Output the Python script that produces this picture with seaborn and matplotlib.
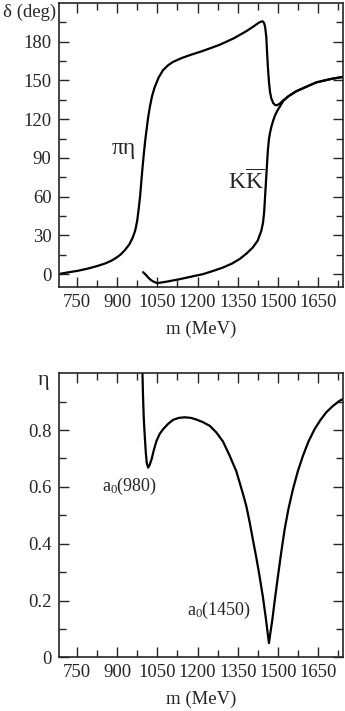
import numpy as np
import pandas as pd
import matplotlib
matplotlib.use('Agg')
import matplotlib.pyplot as plt
from matplotlib.ticker import MultipleLocator, FixedLocator
import seaborn as sns

# 위상차 δ (deg) - πη 채널
m_pieta = [680, 700, 752.6, 790, 827, 855, 877, 897, 914, 930, 945.6, 957, 966.6, 974,
           979, 985, 989, 994, 999, 1004, 1009, 1015, 1021.5, 1030, 1040, 1055, 1071,
           1090, 1108.5, 1140, 1171, 1210, 1245.5, 1280, 1308, 1335, 1357.5, 1385, 1407,
           1426, 1436, 1443, 1449, 1453, 1457, 1460, 1463, 1467, 1471, 1476, 1483, 1490,
           1497, 1507, 1520, 1540, 1568, 1600, 1644, 1700, 1745]
d_pieta = [0, 0.8, 2.6, 4.3, 6.4, 8.3, 10.3, 12.8, 15.5, 19, 23.3, 28, 33.6, 41,
           49, 60, 70, 82, 93, 103, 111.3, 121, 129.4, 138, 145, 152.5, 158,
           161.8, 164.4, 167.3, 169.6, 172.2, 174.8, 177.4, 180, 182.6, 185.2, 188.5, 191.5,
           194.3, 195.5, 195.8, 194.5, 191, 184, 172, 160.5, 149, 141, 136, 132.5, 131,
           130.8, 132, 134.5, 137.8, 141.5, 144.5, 148.5, 151.2, 152.8]

# 위상차 δ (deg) - KK̄ 채널
m_kk = [996.5, 1000, 1008, 1015, 1025, 1034, 1049, 1080, 1133.5, 1180, 1220.5, 1260,
        1295, 1330, 1357.5, 1385, 1407, 1425, 1438.6, 1445, 1449, 1452, 1456, 1460,
        1463, 1467, 1471, 1476, 1483, 1490, 1498, 1507, 1520, 1540, 1568, 1600, 1644,
        1700, 1745]
d_kk = [1.5, 0.8, -0.8, -2.6, -4.5, -5.7, -7, -6, -3.9, -1.8, 0, 2.6,
        5.1, 8.3, 11.7, 16.3, 20.7, 26, 33.6, 40, 48, 58, 72, 86,
        95.8, 104.5, 109.5, 114, 119, 123, 126.5, 129.5, 134, 137.8, 141.5, 144.5, 148.5,
        151.2, 152.8]

# 비탄성도 η
m_eta = [994, 996, 999, 1002.5, 1006.5, 1010, 1015, 1020, 1028, 1036, 1046.5, 1058,
         1071, 1090, 1108.5, 1130, 1152, 1175, 1196, 1220, 1245.5, 1270, 1295, 1320,
         1345, 1357.5, 1370, 1382.5, 1395, 1407, 1420, 1432, 1444, 1454.6, 1461,
         1467, 1473, 1479.6, 1490, 1500.6, 1513, 1525.6, 1540, 1556.6, 1575, 1594, 1615,
         1637.6, 1660, 1681, 1705, 1731, 1745]
eta = [1.0, 0.92, 0.839, 0.78, 0.72, 0.685, 0.668, 0.675, 0.697, 0.728, 0.762, 0.786,
       0.803, 0.822, 0.836, 0.843, 0.845, 0.843, 0.837, 0.828, 0.815, 0.792, 0.76, 0.71,
       0.655, 0.615, 0.575, 0.532, 0.475, 0.414, 0.35, 0.285, 0.215, 0.143, 0.095,
       0.05, 0.09, 0.132, 0.21, 0.285, 0.37, 0.45, 0.523, 0.591, 0.655, 0.709, 0.76,
       0.803, 0.836, 0.862, 0.884, 0.903, 0.91]

x_ticks = [750, 900, 1050, 1200, 1350, 1500, 1650]
delta_ticks = [0, 30, 60, 90, 120, 150, 180]
eta_ticks = [0, 0.2, 0.4, 0.6, 0.8]
eta_ticklabels = ['0', '0.2', '0.4', '0.6', '0.8']

sns.set_style('ticks')
plt.rcParams['font.family'] = ['Liberation Serif', 'DejaVu Serif']
plt.rcParams['mathtext.fontset'] = 'custom'
plt.rcParams['mathtext.rm'] = 'Liberation Serif'
plt.rcParams['mathtext.it'] = 'Liberation Serif:italic'
plt.rcParams['axes.linewidth'] = 1.2

fig = plt.figure(figsize=(3.45, 7.11), dpi=100)
ax1 = fig.add_axes([0.1696, 0.5963, 0.8254, 0.3995])
ax2 = fig.add_axes([0.1696, 0.0755, 0.8254, 0.3995])

df_pieta = pd.DataFrame({'m': m_pieta, 'delta': d_pieta})
df_kk = pd.DataFrame({'m': m_kk, 'delta': d_kk})
df_eta = pd.DataFrame({'m': m_eta, 'eta': eta})

sns.lineplot(data=df_pieta, x='m', y='delta', ax=ax1, color='black', lw=1.6, estimator=None)
sns.lineplot(data=df_kk, x='m', y='delta', ax=ax1, color='black', lw=1.6, estimator=None)
sns.lineplot(data=df_eta, x='m', y='eta', ax=ax2, color='black', lw=1.6, estimator=None)

for ax in (ax1, ax2):
    ax.set_xlim(680, 1745)
    ax.xaxis.set_major_locator(FixedLocator(x_ticks))
    ax.xaxis.set_minor_locator(MultipleLocator(75))
    ax.tick_params(which='both', direction='in', top=True, right=True, width=1.0,
                   labelsize=13.5, pad=5)
    ax.tick_params(which='major', length=7.5)
    ax.tick_params(which='minor', length=5)
    ax.set_xlabel('m (MeV)', fontsize=13.5, labelpad=7)
    ax.set_ylabel('')
    for s in ax.spines.values():
        s.set_visible(True)

ax1.set_ylim(-10, 210)
ax1.yaxis.set_major_locator(FixedLocator(delta_ticks))
ax1.yaxis.set_minor_locator(FixedLocator(np.arange(15, 210, 30)))
fig.text(3 / 345, 1 - 12 / 711, 'δ (deg)', ha='left', va='center', fontsize=13.5)
ax1.text(925, 97, 'πη', fontsize=17, ha='center', va='center')
ax1.text(1380, 72, r'$\mathrm{K}\overline{\mathrm{K}}$', fontsize=17, ha='center', va='center')

ax2.set_ylim(0, 1.0)
ax2.yaxis.set_major_locator(FixedLocator(eta_ticks))
ax2.set_yticklabels(eta_ticklabels)
ax2.yaxis.set_minor_locator(FixedLocator([0.1, 0.3, 0.5, 0.7, 0.9]))
fig.text(43 / 345, 1 - 381 / 711, 'η', ha='center', va='center', fontsize=16)
ax2.text(947, 0.60, r'a$_0$(980)', fontsize=13, ha='center', va='center')
ax2.text(1282, 0.165, r'a$_0$(1450)', fontsize=13, ha='center', va='center')

fig.savefig('out.png', dpi=100)
